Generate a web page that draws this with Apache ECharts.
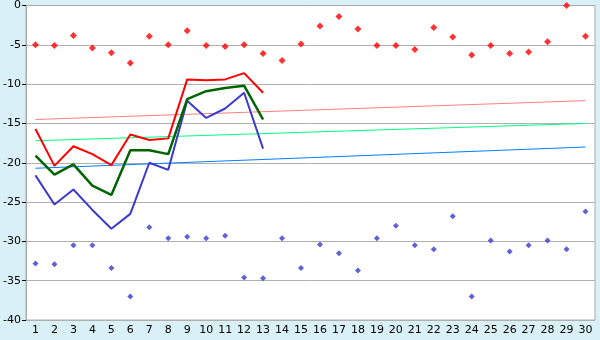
<!DOCTYPE html>
<html><head><meta charset="utf-8">
<script src="https://cdn.jsdelivr.net/npm/echarts@6/dist/echarts.min.js"></script>
<style>html,body{margin:0;padding:0;background:#d9f0f7}#c{width:600px;height:340px}</style>
</head><body><div id="c"></div>
<script>
var days = ['1','2','3','4','5','6','7','8','9','10','11','12','13','14','15','16','17','18','19','20','21','22','23','24','25','26','27','28','29','30'];
var maxPoints = [-5.0,-5.1,-3.8,-5.4,-6.0,-7.3,-3.9,-5.0,-3.2,-5.1,-5.2,-5.0,-6.1,-7.0,-4.9,-2.6,-1.4,-3.0,-5.1,-5.1,-5.6,-2.8,-4.0,-6.3,-5.1,-6.1,-5.9,-4.6,0.0,-3.9];
var minPoints = [-32.8,-32.9,-30.5,-30.5,-33.4,-37.0,-28.2,-29.6,-29.4,-29.6,-29.3,-34.6,-34.7,-29.6,-33.4,-30.4,-31.5,-33.7,-29.6,-28.0,-30.5,-31.0,-26.8,-37.0,-29.9,-31.3,-30.5,-29.9,-31.0,-26.2];
var redLine = [-15.7,-20.4,-17.9,-18.9,-20.3,-16.4,-17.1,-16.9,-9.4,-9.5,-9.4,-8.6,-11.1];
var greenLine = [-19.1,-21.5,-20.2,-22.9,-24.1,-18.4,-18.4,-18.9,-11.9,-10.9,-10.5,-10.2,-14.5];
var blueLine = [-21.6,-25.3,-23.4,-26.0,-28.4,-26.5,-20.0,-20.9,-12.1,-14.3,-13.1,-11.1,-18.2];
var redTrend = [-14.5, -12.1];
var greenTrend = [-17.2, -15.0];
var blueTrend = [-20.7, -18.0];

function ends(pair){
  var a = days.map(function(){return null;});
  a[0] = pair[0]; a[days.length-1] = pair[1];
  return a;
}
var font = 'DejaVu Sans';
var chart = echarts.init(document.getElementById('c'), null, {renderer:'canvas'});
chart.setOption({
  animation:false,
  backgroundColor:'#d9f0f7',
  grid:{left:26,right:5,top:5,bottom:20,show:true,backgroundColor:'#ffffff',borderColor:'#aaaaaa',borderWidth:1},
  xAxis:{type:'category',data:days,boundaryGap:true,
    axisLine:{lineStyle:{color:'#aaaaaa'}},
    axisTick:{alignWithLabel:true,length:4,lineStyle:{color:'#000'}},
    axisLabel:{color:'#000',fontFamily:font,fontSize:11,margin:5,interval:0},
    splitLine:{show:false}},
  yAxis:{type:'value',min:-40,max:0,interval:5,
    axisLine:{show:true,lineStyle:{color:'#aaaaaa'}},
    axisTick:{show:true,length:4,lineStyle:{color:'#000'}},
    axisLabel:{color:'#000',fontFamily:font,fontSize:11,margin:5},
    splitLine:{lineStyle:{color:'#b0b0b0'}}},
  series:[
    {type:'line',data:ends(redTrend),connectNulls:true,symbol:'none',lineStyle:{color:'#ff8080',width:1},z:1},
    {type:'line',data:ends(greenTrend),connectNulls:true,symbol:'none',lineStyle:{color:'#00ff80',width:1},z:1},
    {type:'line',data:ends(blueTrend),connectNulls:true,symbol:'none',lineStyle:{color:'#0080ff',width:1},z:1},
    {type:'line',data:blueLine,symbol:'none',lineStyle:{color:'#3a3acc',width:2},z:2},
    {type:'line',data:greenLine,symbol:'none',lineStyle:{color:'#006400',width:2.5},z:3},
    {type:'line',data:redLine,symbol:'none',lineStyle:{color:'#ff0000',width:2},z:4},
    {type:'scatter',data:maxPoints,symbol:'diamond',symbolSize:7,itemStyle:{color:'#ff0000'},z:5},
    {type:'scatter',data:minPoints,symbol:'diamond',symbolSize:6,itemStyle:{color:'#3a3acc'},z:5}
  ]
});
</script></body></html>
